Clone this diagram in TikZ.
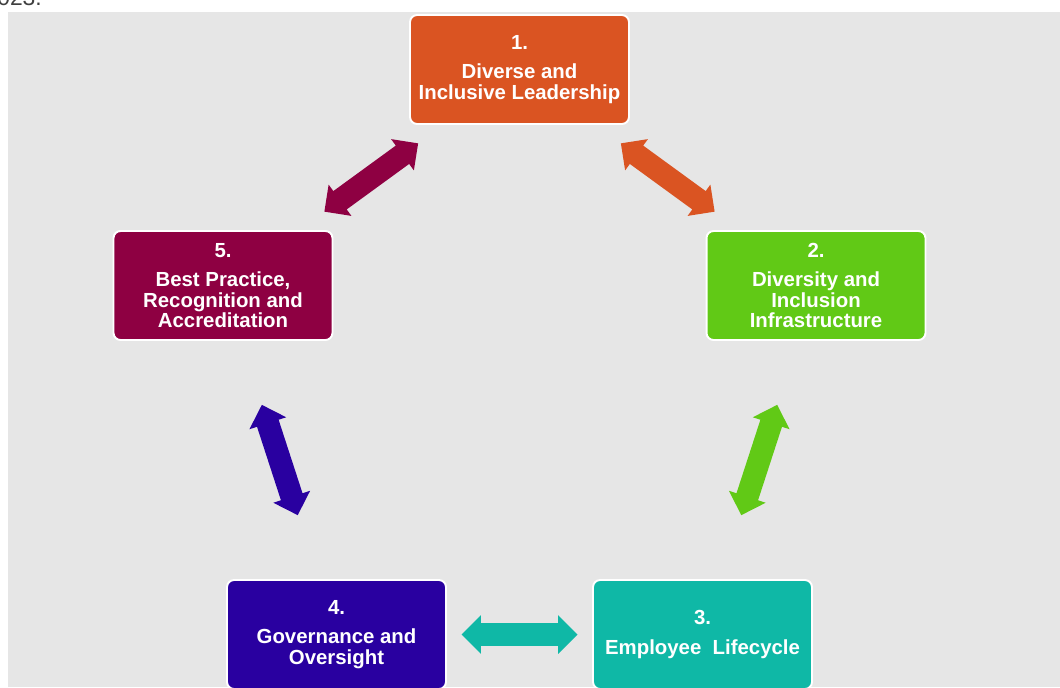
\documentclass[tikz,border=0pt]{standalone}
\usepackage{fontspec}
\setmainfont{Liberation Sans}
\usetikzlibrary{shapes.arrows}

\begin{document}
\begin{tikzpicture}[x=0.02cm, y=-0.02cm, every node/.style={font=\bfseries\fontsize{11.6}{11.6}\selectfont}]
        \definecolor{dibg}{RGB}{230,230,230}
        \definecolor{diorange}{RGB}{218,84,34}
        \definecolor{digreen}{RGB}{97,201,22}
        \definecolor{diteal}{RGB}{15,184,166}
        \definecolor{diblue}{RGB}{41,0,160}
        \definecolor{dimaroon}{RGB}{142,0,66}

        \tikzset{
            pillar/.style={draw=white, line width=1.1pt, rounded corners=4pt, minimum width=4.38cm, minimum height=2.18cm, align=center, text=white, inner sep=0pt},
            link/.style={double arrow, sloped, minimum height=2.32cm, minimum width=0.76cm, double arrow head extend=0.16cm, inner xsep=0pt, inner ysep=0.22cm, outer sep=0pt}
        }

        % Page area and grey panel
        \useasboundingbox (0,0) rectangle (1060,687);
        \fill[dibg] (8,12) rectangle (1060,687);
        \node[anchor=base west, font=\fontsize{13}{13}\selectfont, text=black!75, inner sep=0pt] (cut) at (-3,5) {023.};

        % The five boxes
        \node[pillar, fill=diorange] (b1) at (519.5,69.5) {1.\\[5pt]Diverse and\\Inclusive Leadership};
        \node[pillar, fill=digreen] (b2) at (816,285.5) {2.\\[5pt]Diversity and\\Inclusion\\Infrastructure};
        \node[pillar, fill=diteal] (b3) at (702.5,634.5) {3.\\[5pt]Employee\ \ Lifecycle};
        \node[pillar, fill=diblue] (b4) at (336.5,634.5) {4.\\[5pt]Governance and\\Oversight};
        \node[pillar, fill=dimaroon] (b5) at (223,285.5) {5.\\[5pt]Best Practice,\\Recognition and\\Accreditation};

        % Two-way arrows between neighbours
        \path (b1) -- node[link, fill=diorange] (a12) {} (b2);
        \path (b2) -- node[link, fill=digreen] (a23) {} (b3);
        \path (b4) -- node[link, fill=diteal] (a34) {} (b3);
        \path (b5) -- node[link, fill=diblue] (a45) {} (b4);
        \path (b5) -- node[link, fill=dimaroon] (a51) {} (b1);
    \end{tikzpicture}
\end{document}
